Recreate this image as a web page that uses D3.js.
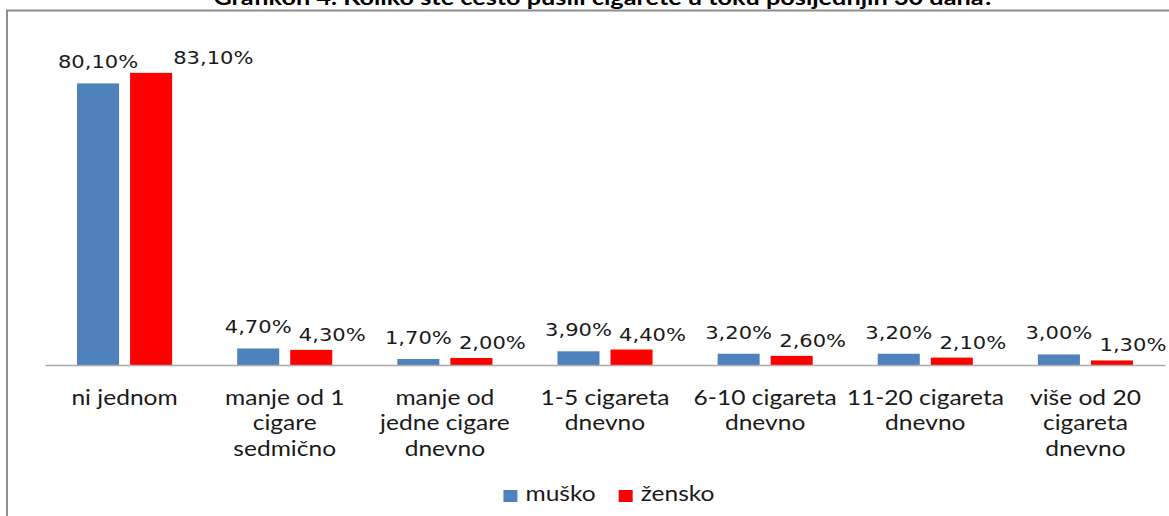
<!DOCTYPE html>
<html>
<head>
<meta charset="utf-8">
<script src="https://cdn.jsdelivr.net/npm/d3@7"></script>
<style>
  html, body { margin: 0; padding: 0; background: #fff; }
  svg { display: block; }
</style>
</head>
<body>
<svg id="chart" width="1169" height="516"></svg>
<script>
// ---- data ----
const title = "Grafikon 4. Koliko ste često pušili cigarete u toku posljednjih 30 dana?";
const categories = [
  "ni jednom",
  "manje od 1\ncigare\nsedmično",
  "manje od\njedne cigare\ndnevno",
  "1-5 cigareta\ndnevno",
  "6-10 cigareta\ndnevno",
  "11-20 cigareta\ndnevno",
  "više od 20\ncigareta\ndnevno"
];
const seriesNames = ["muško", "žensko"];
const musko = [80.1, 4.7, 1.7, 3.9, 3.2, 3.2, 3.0];
const zensko = [83.1, 4.3, 2.0, 4.4, 2.6, 2.1, 1.3];
const seriesColors = ["#4F81BD", "#FF0000"];

// ---- layout ----
const W = 1169, H = 516;
const SX = 1.17; // horizontal stretch of the source picture
const svg = d3.select("#chart");

const x0 = d3.scaleBand().domain(categories).range([45, 1165])
  .paddingInner(65 / 160).paddingOuter(32 / 160);
const x1 = d3.scaleBand().domain(seriesNames).range([0, x0.bandwidth()])
  .paddingInner(11 / 53).paddingOuter(0);
const y = d3.scaleLinear().domain([0, 90]).range([365, 48.6]);

const values = [musko, zensko];
const fmt = v => v.toFixed(2).replace(".", ",") + "%";

function stretchText(sel, x, yy) {
  sel.attr("transform", `translate(${x},${yy}) scale(${SX},1)`);
}

// frame
svg.append("line").attr("x1", 6).attr("x2", W).attr("y1", 10.5).attr("y2", 10.5)
  .attr("stroke", "#8e8e8e").attr("stroke-width", 2);
svg.append("line").attr("x1", 7).attr("x2", 7).attr("y1", 10).attr("y2", H)
  .attr("stroke", "#8e8e8e").attr("stroke-width", 2);

// title
const t = svg.append("text").text(title)
  .attr("font-family", "Lato, 'Open Sans', sans-serif").attr("font-weight", "bold")
  .attr("font-size", 21.6).attr("text-anchor", "middle").attr("fill", "#000");
stretchText(t, 604, 5);

// bars
const groups = svg.append("g").selectAll("g").data(categories).join("g")
  .attr("transform", d => `translate(${x0(d)},0)`);

groups.selectAll("rect")
  .data((d, i) => seriesNames.map((s, k) => ({ s, k, v: values[k][i] })))
  .join("rect")
  .attr("x", d => x1(d.s))
  .attr("y", d => y(d.v))
  .attr("width", x1.bandwidth())
  .attr("height", d => y(0) - y(d.v))
  .attr("fill", d => seriesColors[d.k]);

// axis baseline
const xAxis = d3.axisBottom(x0).tickSize(0).tickFormat("");
const ax = svg.append("g").attr("transform", `translate(0,${y(0)})`).call(xAxis);
ax.select(".domain").attr("stroke", "#ababab").attr("stroke-width", 1.5);

// data labels
const labelFont = "'DejaVu Sans', Verdana, sans-serif";
categories.forEach((c, i) => {
  const bx = x0(c) + x1(seriesNames[0]) + x1.bandwidth() / 2;
  const by = y(musko[i]) - 15;
  const lb = svg.append("text").text(fmt(musko[i]))
    .attr("font-family", labelFont).attr("font-size", 18)
    .attr("text-anchor", "middle").attr("fill", "#1a1a1a");
  stretchText(lb, bx, by);
  const bw = lb.node().getComputedTextLength() * SX;
  const blueRight = bx + bw / 2;

  let rx = x0(c) + x1(seriesNames[1]) + x1.bandwidth() / 2 + 21;
  const ry = y(zensko[i]) - 9;
  const lr = svg.append("text").text(fmt(zensko[i]))
    .attr("font-family", labelFont).attr("font-size", 18)
    .attr("text-anchor", "middle").attr("fill", "#1a1a1a");
  const rw = lr.node().getComputedTextLength() * SX;
  if (rx - rw / 2 < blueRight && Math.abs(ry - by) < 16) {
    rx = blueRight + 35 + rw / 2;
  }
  stretchText(lr, rx, ry);
});

// category labels
const catFont = "Lato, 'Open Sans', sans-serif";
categories.forEach(c => {
  const cx = x0(c) + x0.bandwidth() / 2;
  const tx = svg.append("text").attr("font-family", catFont).attr("font-size", 21)
    .attr("text-anchor", "middle").attr("fill", "#1a1a1a");
  c.split("\n").forEach((line, j) => {
    tx.append("tspan").attr("x", 0).attr("y", j * 25.5).text(line);
  });
  stretchText(tx, cx, 405);
});

// legend
const lg = svg.append("g");
let lx = 0;
seriesNames.forEach((s, k) => {
  lg.append("rect").attr("x", lx).attr("y", 490).attr("width", 14).attr("height", 12)
    .attr("fill", seriesColors[k]);
  const lt = lg.append("text").text(s).attr("font-family", catFont).attr("font-size", 21)
    .attr("fill", "#1a1a1a");
  stretchText(lt, lx + 22, 501);
  lx += 22 + lt.node().getComputedTextLength() * SX + 23;
});
const lgW = lx - 23;
lg.attr("transform", `translate(${609 - lgW / 2},0)`);
</script>
</body>
</html>
